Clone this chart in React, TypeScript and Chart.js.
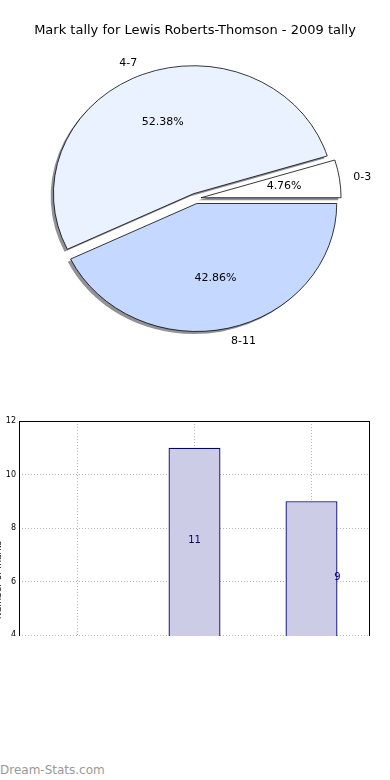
import React, { useEffect, useRef } from "react";
import { Chart, registerables } from "chart.js";

Chart.register(...registerables);

// ---- data ----
const categories = ["0-3", "4-7", "8-11"];
const tally = [1, 11, 9];
const yTicksMin = 0;
const yTicksMax = 12;
const titleText = "Mark tally for Lewis Roberts-Thomson - 2009 tally";
const yAxisTitle = "Number of marks";
const watermark = "Dream-Stats.com";

// ---- style constants ----
const FONT = '"DejaVu Sans", sans-serif';
const pieColors: Record<string, string> = { "0-3": "#FFFFFF", "4-7": "#EAF1FF", "8-11": "#C5D8FF" };
const RX = 140;
const RY = 128;
const EXPLODE = 0.04;
const SHADOW = { x: -2.8, y: 2.6, color: "rgba(110,110,115,0.75)" };
const valueLabelAlign = ["center", "center", "edge"];

function PieChart() {
  const ref = useRef<HTMLCanvasElement>(null);
  useEffect(() => {
    const total = tally.reduce((a, b) => a + b, 0);
    // reversed order so that clockwise drawing from east matches a counter-clockwise layout
    const labs = [...categories].reverse();
    const vals = [...tally].reverse();
    const piePlugin = {
      id: "piePlugin",
      beforeDatasetsDraw(chart: any) {
        const ctx = chart.ctx;
        const arcs = chart.getDatasetMeta(0).data;
        ctx.save();
        for (const el of arcs) {
          const { x, y, startAngle, endAngle, outerRadius } = el;
          const mid = (startAngle + endAngle) / 2;
          const ex = Math.cos(mid) * EXPLODE * RX;
          const ey = Math.sin(mid) * EXPLODE * RY;
          ctx.save();
          ctx.translate(x + ex + SHADOW.x, y + ey + SHADOW.y);
          ctx.scale(RX / outerRadius, RY / outerRadius);
          ctx.beginPath();
          ctx.moveTo(0, 0);
          ctx.arc(0, 0, outerRadius, startAngle, endAngle);
          ctx.closePath();
          ctx.fillStyle = SHADOW.color;
          ctx.fill();
          ctx.restore();
        }
        for (const el of arcs) {
          const { x, y, startAngle, endAngle, outerRadius } = el;
          const mid = (startAngle + endAngle) / 2;
          const ex = Math.cos(mid) * EXPLODE * RX;
          const ey = Math.sin(mid) * EXPLODE * RY;
          ctx.save();
          ctx.translate(x + ex, y + ey);
          ctx.scale(RX / outerRadius, RY / outerRadius);
          ctx.translate(-x, -y);
          el.draw(ctx);
          ctx.restore();
        }
        ctx.restore();
        return false;
      },
      afterDraw(chart: any) {
        const ctx = chart.ctx;
        const arcs = chart.getDatasetMeta(0).data;
        ctx.save();
        ctx.fillStyle = "#000";
        ctx.textBaseline = "middle";
        ctx.font = `13px ${FONT}`;
        ctx.textAlign = "center";
        ctx.fillText(titleText, 195, 31);
        ctx.font = `11px ${FONT}`;
        arcs.forEach((el: any, i: number) => {
          const { x, y, startAngle, endAngle } = el;
          const mid = (startAngle + endAngle) / 2;
          const c = Math.cos(mid);
          const s = Math.sin(mid);
          const cx = x + c * EXPLODE * RX;
          const cy = y + s * EXPLODE * RY;
          const pct = ((vals[i] / total) * 100).toFixed(2) + "%";
          ctx.textAlign = "center";
          ctx.fillText(pct, cx + c * 0.6 * RX, cy + s * 0.6 * RY);
          ctx.textAlign = c >= 0 ? "left" : "right";
          ctx.fillText(labs[i], cx + c * 1.1 * RX, cy + s * 1.1 * RY);
        });
        ctx.restore();
      },
    };
    const chart = new Chart(ref.current!, {
      type: "pie",
      data: {
        labels: labs,
        datasets: [
          {
            data: vals,
            backgroundColor: labs.map((l) => pieColors[l]),
            borderColor: "#000",
            borderWidth: 0.9,
            hoverOffset: 0,
            offset: 0,
          },
        ],
      },
      options: {
        animation: false,
        responsive: false,
        rotation: 90,
        layout: { padding: { left: 40, right: 39, top: 42, bottom: 45 } },
        plugins: { legend: { display: false }, tooltip: { enabled: false }, title: { display: false } },
        events: [],
      },
      plugins: [piePlugin],
    });
    return () => chart.destroy();
  }, []);
  return <canvas ref={ref} width={390} height={400} style={{ position: "absolute", left: 0, top: 0, width: 390, height: 400 }} />;
}

function BarChart() {
  const ref = useRef<HTMLCanvasElement>(null);
  useEffect(() => {
    const barPlugin = {
      id: "barPlugin",
      afterDatasetsDraw(chart: any) {
        const ctx = chart.ctx;
        const meta = chart.getDatasetMeta(0);
        const yScale = chart.scales.y;
        ctx.save();
        ctx.fillStyle = "#000080";
        ctx.font = `10px ${FONT}`;
        ctx.textAlign = "center";
        ctx.textBaseline = "middle";
        meta.data.forEach((bar: any, i: number) => {
          const v = tally[i];
          const px = valueLabelAlign[i] === "edge" ? bar.x + bar.width / 2 : bar.x;
          ctx.fillText(String(v), px, yScale.getPixelForValue(v * 0.685));
        });
        ctx.restore();
      },
      afterDraw(chart: any) {
        const ctx = chart.ctx;
        const a = chart.chartArea;
        ctx.save();
        ctx.strokeStyle = "#000";
        ctx.lineWidth = 1;
        ctx.strokeRect(Math.round(a.left) + 0.5, Math.round(a.top) + 0.5, Math.round(a.right - a.left) - 1, Math.round(a.bottom - a.top));
        ctx.translate(11, 170);
        ctx.rotate(-Math.PI / 2);
        ctx.fillStyle = "#000";
        ctx.font = `9px ${FONT}`;
        ctx.textAlign = "center";
        ctx.textBaseline = "middle";
        ctx.fillText(yAxisTitle, 0, 0);
        ctx.restore();
      },
    };
    const chart = new Chart(ref.current!, {
      type: "bar",
      data: {
        labels: categories,
        datasets: [
          {
            data: tally,
            backgroundColor: "#CCCCE6",
            borderColor: "#000080",
            borderWidth: 1.3,
            barPercentage: 0.444,
            categoryPercentage: 1,
          },
        ],
      },
      options: {
        animation: false,
        responsive: false,
        events: [],
        layout: { padding: { left: 0, right: 20, top: 11, bottom: 28 } },
        plugins: { legend: { display: false }, tooltip: { enabled: false }, title: { display: false } },
        scales: {
          x: {
            ticks: { display: false },
            grid: { offset: false, color: "#b8b8b8", lineWidth: 1, drawTicks: false },
            border: { display: false, dash: [1, 2] },
          },
          y: {
            min: yTicksMin,
            max: yTicksMax,
            ticks: { stepSize: 2, color: "#000", font: { size: 8, family: FONT }, padding: 3 },
            grid: { color: "#b8b8b8", lineWidth: 1, drawTicks: false },
            border: { display: false, dash: [1, 2] },
            afterFit: (scale: any) => {
              scale.width = 31;
            },
          },
        },
      },
      plugins: [barPlugin],
    });
    return () => chart.destroy();
  }, []);
  return (
    <div style={{ position: "absolute", left: 0, top: 410, width: 390, height: 226, overflow: "hidden" }}>
      <canvas ref={ref} width={402} height={360} style={{ position: "absolute", left: -12, top: 0, width: 402, height: 360 }} />
    </div>
  );
}

export default function App() {
  useEffect(() => {
    document.body.style.margin = "0";
  }, []);
  return (
    <div style={{ position: "relative", width: 390, height: 780, background: "#fff", overflow: "hidden" }}>
      <PieChart />
      <BarChart />
      <div
        style={{
          position: "absolute",
          left: 0,
          top: 762,
          fontFamily: FONT,
          fontSize: 12,
          color: "#999",
          lineHeight: "16px",
        }}
      >
        {watermark}
      </div>
    </div>
  );
}
